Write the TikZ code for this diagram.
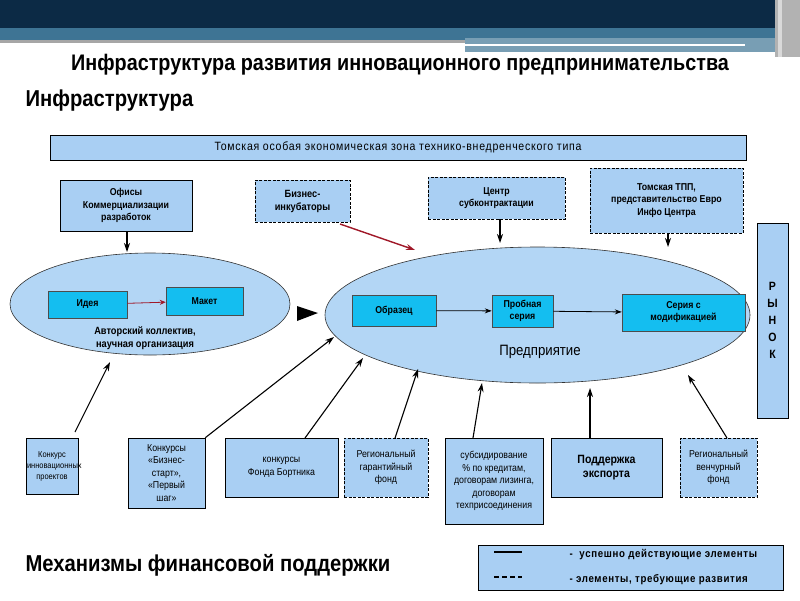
\documentclass[tikz,border=0pt]{standalone}
\usepackage{fontspec}
\setmainfont{Liberation Sans}[FakeStretch=0.88]
\newfontfamily\spaced{Liberation Sans}[FakeStretch=0.88,LetterSpace=6]
\usetikzlibrary{arrows.meta,shapes.geometric}
\definecolor{boxb}{HTML}{A9CFF3}
\definecolor{cyanb}{HTML}{14BEF0}
\definecolor{ellb}{HTML}{B3D6F5}
\definecolor{navy}{HTML}{0C2A45}
\definecolor{steel}{HTML}{3E7494}
\definecolor{redarr}{HTML}{A01828}
\tikzset{
 bx/.style={draw=black,fill=boxb,line width=0.6pt,align=center,inner sep=1pt,font=\fontsize{10}{12.5}\selectfont},
 dbx/.style={bx,dash pattern=on 3pt off 1.5pt},
 cbx/.style={draw=black!70,fill=cyanb,line width=0.5pt,align=center,inner sep=1pt,font=\fontsize{10}{12}\selectfont\bfseries},
 ell/.style={ellipse,draw=black!80,fill=ellb,line width=0.6pt},
 arr/.style={-{Stealth[length=9pt,width=6pt]},line width=1.1pt},
}
\begin{document}
\begin{tikzpicture}[x=1pt,y=-1pt]
\useasboundingbox (0,0) rectangle (800,600);
\fill[white] (0,0) rectangle (800,600);
% header
\fill[navy] (0,0) rectangle (800,28);
\fill[steel] (0,28) rectangle (800,40);
\fill[black!35] (0,40) rectangle (470,43);
\fill[steel!70] (465,38) rectangle (775,52);
\fill[white] (465,44) rectangle (745,46);
\fill[black!30] (775,0) rectangle (800,57);
\fill[black!15] (778,0) rectangle (782,57);
\node[font=\fontsize{22.5}{24}\selectfont\bfseries] (title) at (400,65) {Инфраструктура развития инновационного предпринимательства};
\node[anchor=west,font=\fontsize{23}{25}\selectfont\bfseries] (infra) at (22,101) {Инфраструктура};
% top bar
\node[bx,minimum width=696,minimum height=25,font=\fontsize{12}{13}\spaced] (toz) at (398,147.5) {Томская особая экономическая зона технико-внедренческого типа};
\node[bx,minimum width=132,minimum height=51,font=\fontsize{10}{12.5}\selectfont\bfseries] (off) at (126,205.5) {Офисы\\Коммерциализации\\разработок};
\node[dbx,minimum width=95,minimum height=42,font=\fontsize{10.5}{13}\selectfont\bfseries] (inc) at (302.5,201) {Бизнес-\\инкубаторы};
\node[dbx,minimum width=137,minimum height=42,font=\fontsize{10}{12.5}\selectfont\bfseries] (sub) at (496.5,198) {Центр\\субконтрактации};
\node[dbx,minimum width=153,minimum height=65,font=\fontsize{10}{12.5}\selectfont\bfseries] (tpp) at (666.5,200.5) {Томская ТПП,\\представительство Евро\\Инфо Центра};
\node[bx,minimum width=31,minimum height=195,font=\fontsize{12}{17}\selectfont\bfseries] (mkt) at (772.5,320.5) {Р\\Ы\\Н\\О\\К};
% ellipses
\node[ell,minimum width=280,minimum height=102] (e1) at (150,304) {};
\node[ell,minimum width=425,minimum height=136] (e2) at (537.5,315) {};
\node[cbx,minimum width=79,minimum height=27] (idea) at (87.5,304.5) {Идея};
\node[cbx,minimum width=77,minimum height=28] (maket) at (204.5,301) {Макет};
\draw[-{Stealth[length=6pt,width=5pt]},redarr,line width=0.8pt] (idea) -- (maket);
\node[align=center,font=\fontsize{10.5}{13}\selectfont\bfseries] (avt) at (145,338) {Авторский коллектив,\\научная организация};
\fill (297,306) -- (318,313) -- (297,321) -- cycle;
\node[cbx,minimum width=84,minimum height=31] (obr) at (394,310.5) {Образец};
\node[cbx,minimum width=61,minimum height=32] (prob) at (522.5,311) {Пробная\\серия};
\node[cbx,minimum width=123,minimum height=37] (ser) at (683.5,312.5) {Серия с\\модификацией};
\draw[arr,line width=0.8pt,-{Stealth[length=7pt,width=5pt]}] (obr) -- (prob);
\draw[arr,line width=0.8pt,-{Stealth[length=7pt,width=5pt]}] (prob) -- (ser);
\node[font=\fontsize{15}{17}\selectfont] (pred) at (540,352) {Предприятие};
% top arrows
\coordinate (a1) at (127,252);
\draw[arr] (off.south -| a1) -- (a1);
\coordinate (a2s) at (340,224); \coordinate (a2e) at (415,250);
\draw[arr,redarr,line width=1.4pt] (a2s) -- (a2e);
\coordinate (a3) at (500,243);
\draw[arr] (sub.south -| a3) -- (a3);
\coordinate (a4) at (668,247);
\draw[arr] (tpp.south -| a4) -- (a4);
% bottom boxes
\node[bx,text width=50,minimum height=56,font=\fontsize{8.5}{11}\selectfont] (b1) at (52,466) {Конкурс\\инновационных\\проектов};
\node[bx,minimum width=77,minimum height=70] (b2) at (166.5,473) {Конкурсы\\«Бизнес-\\старт»,\\«Первый\\шаг»};
\node[bx,minimum width=113,minimum height=59] (b3) at (281.5,467.5) {конкурсы\\Фонда Бортника};
\node[dbx,minimum width=84,minimum height=59] (b4) at (386,467.5) {Региональный\\гарантийный\\фонд};
\node[bx,minimum width=98,minimum height=86] (b5) at (494,481) {субсидирование\\\% по кредитам,\\договорам лизинга,\\договорам\\техприсоединения};
\node[bx,minimum width=111,minimum height=59,font=\fontsize{12}{14}\selectfont\bfseries] (b6) at (606.5,467.5) {Поддержка\\экспорта};
\node[dbx,minimum width=77,minimum height=59] (b7) at (718.5,467.5) {Региональный\\венчурный\\фонд};
\coordinate (c1s) at (75,432); \coordinate (c1e) at (110,362);
\draw[arr] (c1s) -- (c1e);
\coordinate (c2e) at (334,337);
\draw[arr] (b2.north east) -- (c2e);
\coordinate (c3s) at (305,438); \coordinate (c3e) at (363,358);
\draw[arr] (c3s) -- (c3e);
\coordinate (c4s) at (395,438); \coordinate (c4e) at (418,369);
\draw[arr] (c4s) -- (c4e);
\coordinate (c5s) at (473,438); \coordinate (c5e) at (482,383);
\draw[arr] (c5s) -- (c5e);
\coordinate (c6e) at (590,388);
\draw[arr] (b6.north -| c6e) -- (c6e);
\coordinate (c7s) at (727,438); \coordinate (c7e) at (688,375);
\draw[arr] (c7s) -- (c7e);
\node[anchor=west,font=\fontsize{23}{25}\selectfont\bfseries] (mech) at (22,565) {Механизмы финансовой поддержки};
% legend
\node[bx,minimum width=305,minimum height=45] (leg) at (630.5,567.5) {};
\coordinate (l1a) at (494,552); \coordinate (l1b) at (522,552);
\draw[line width=1.3pt] (l1a) -- (l1b);
\coordinate (l2a) at (494,577); \coordinate (l2b) at (522,577);
\draw[line width=1.3pt,dash pattern=on 5pt off 3pt] (l2a) -- (l2b);
\node[anchor=west,font=\fontsize{11}{12}\spaced\bfseries] (lt1) at (566,555) {-\ \ успешно действующие элементы};
\node[anchor=west,font=\fontsize{11}{12}\spaced\bfseries] (lt2) at (566,580) {- элементы, требующие развития};
\end{tikzpicture}
\end{document}
